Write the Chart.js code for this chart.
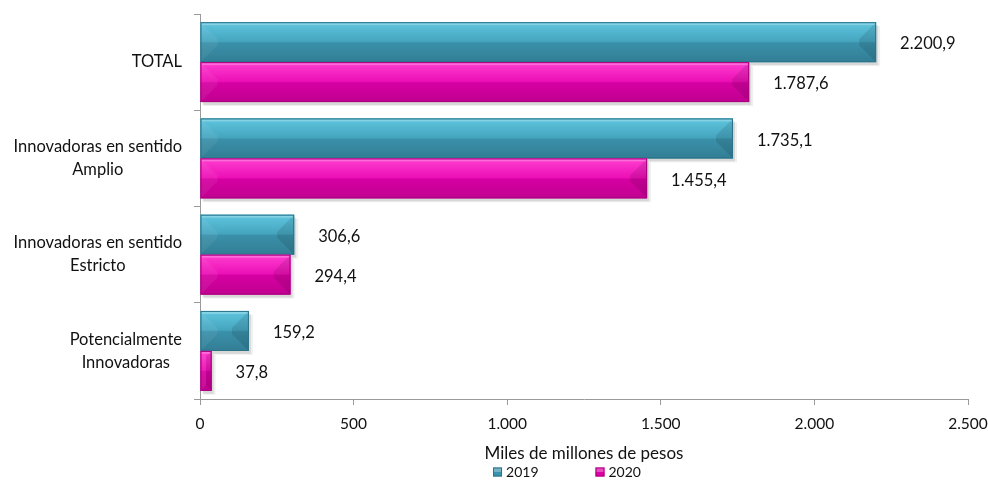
<!DOCTYPE html>
<html>
<head>
<meta charset="utf-8">
<script src="https://cdn.jsdelivr.net/npm/chart.js@4.4.1/dist/chart.umd.min.js"></script>
<style>
  body { margin: 0; background: #fff; }
</style>
</head>
<body>
<canvas id="myChart" width="988" height="480"></canvas>
<script>
// data
const categories = [
    ['TOTAL'],
    ['Innovadoras en sentido', 'Amplio'],
    ['Innovadoras en sentido', 'Estricto'],
    ['Potencialmente', 'Innovadoras']
];
const seriesNames = ['2019', '2020'];
const values2019 = [2200.9, 1735.1, 306.6, 159.2];
const values2020 = [1787.6, 1455.4, 294.4, 37.8];
const xTicks = [0, 500, 1000, 1500, 2000, 2500];
const axisTitle = 'Miles de millones de pesos';

const fontFamily = 'Lato, "Open Sans", sans-serif';

// shading stops per series (top, upper mid, lower mid, bottom)
const shade2019 = ['#60C6DF', '#45A5BF', '#3A90A9', '#327E95'];
const shade2020 = ['#FF3FD0', '#EC10B6', '#D600A2', '#C00090'];

// spanish style number: 1.787,6
function fmt(v, dec) {
    const parts = v.toFixed(dec).split('.');
    parts[0] = parts[0].replace(/\B(?=(\d{3})+(?!\d))/g, '.');
    return parts.join(',');
}

// soft shadow behind the bars
const barShadow = {
    id: 'barShadow',
    beforeDatasetsDraw(chart) {
        const ctx = chart.ctx;
        ctx.save();
        chart.data.datasets.forEach((ds, di) => {
            chart.getDatasetMeta(di).data.forEach(bar => {
                const T = bar.y - bar.height / 2;
                ctx.fillStyle = 'rgba(0,0,0,0.10)';
                ctx.fillRect(bar.base + 2, T + 3, bar.x - bar.base, bar.height);
                ctx.fillStyle = 'rgba(0,0,0,0.06)';
                ctx.fillRect(bar.base + 3, T + 4, bar.x - bar.base + 1, bar.height);
            });
        });
        ctx.restore();
    }
};

// bevel look on each bar
const bevelPlugin = {
    id: 'bevel',
    afterDatasetsDraw(chart) {
        const ctx = chart.ctx;
        chart.data.datasets.forEach((ds, di) => {
            const meta = chart.getDatasetMeta(di);
            meta.data.forEach(bar => {
                const L = bar.base, R = bar.x;
                const T = bar.y - bar.height / 2, B = bar.y + bar.height / 2;
                const b = Math.min(bar.height / 2, (R - L) / 2, 17);
                const face = (pts, col) => {
                    ctx.beginPath();
                    ctx.moveTo(pts[0][0], pts[0][1]);
                    for (let i = 1; i < pts.length; i++) ctx.lineTo(pts[i][0], pts[i][1]);
                    ctx.closePath();
                    ctx.fillStyle = col;
                    ctx.fill();
                };
                ctx.save();
                // vertical shading: light top half, darker bottom half
                const g = ctx.createLinearGradient(0, T, 0, B);
                g.addColorStop(0, ds.shade[0]);
                g.addColorStop(0.48, ds.shade[1]);
                g.addColorStop(0.52, ds.shade[2]);
                g.addColorStop(1, ds.shade[3]);
                ctx.fillStyle = g;
                ctx.fillRect(L, T, R - L, B - T);
                // left face
                face([[L, T], [L + b, T + b], [L + b, B - b], [L, B]], 'rgba(255,255,255,0.06)');
                // right face
                face([[R, T], [R - b, T + b], [R - b, B - b], [R, B]], 'rgba(0,0,0,0.10)');
                // highlight line on top
                ctx.fillStyle = 'rgba(255,255,255,0.25)';
                ctx.fillRect(L + 1, T + 1, Math.max(0, R - L - 2), 2);
                // outline
                ctx.strokeStyle = ds.edgeColor;
                ctx.lineWidth = 1;
                ctx.strokeRect(L + 0.5, T + 0.5, R - L - 1, bar.height - 1);
                ctx.restore();
            });
        });
    }
};

// value labels to the right of bars
const valueLabels = {
    id: 'valueLabels',
    afterDatasetsDraw(chart) {
        const ctx = chart.ctx;
        ctx.save();
        ctx.font = '16.5px ' + fontFamily;
        ctx.fillStyle = '#111';
        ctx.textAlign = 'left';
        ctx.textBaseline = 'middle';
        chart.data.datasets.forEach((ds, di) => {
            chart.getDatasetMeta(di).data.forEach((bar, i) => {
                ctx.fillText(fmt(ds.data[i], 1), bar.x + 24, bar.y + 2);
            });
        });
        ctx.restore();
    }
};

// category labels: block right aligned, lines centered inside block
const categoryLabels = {
    id: 'categoryLabels',
    afterDraw(chart) {
        const ctx = chart.ctx;
        const yScale = chart.scales.y;
        const right = yScale.right - 18;
        const lineH = 23;
        ctx.save();
        ctx.font = '16.5px ' + fontFamily;
        ctx.fillStyle = '#111';
        ctx.textAlign = 'center';
        ctx.textBaseline = 'middle';
        chart.data.labels.forEach((lines, i) => {
            const y = yScale.getPixelForValue(i);
            const w = Math.max(...lines.map(l => ctx.measureText(l).width));
            const cx = right - w / 2;
            lines.forEach((l, k) => {
                ctx.fillText(l, cx, y + (k - (lines.length - 1) / 2) * lineH);
            });
        });
        ctx.restore();
    }
};

// legend under the axis title
const bottomLegend = {
    id: 'bottomLegend',
    afterDraw(chart) {
        const ctx = chart.ctx;
        const area = chart.chartArea;
        ctx.save();
        ctx.font = '14px ' + fontFamily;
        ctx.textBaseline = 'middle';
        ctx.textAlign = 'left';
        const box = 9, gapText = 4, gapItem = 57;
        const items = chart.data.datasets.map(ds => ({
            text: ds.label, color: ds.backgroundColor, edge: ds.edgeColor,
            w: box + gapText + ctx.measureText(ds.label).width
        }));
        const total = items.reduce((s, it) => s + it.w, 0) + gapItem * (items.length - 1);
        let x = (area.left + area.right) / 2 - 17 - total / 2;
        const y = chart.height - 8;
        items.forEach(it => {
            ctx.fillStyle = it.color;
            ctx.fillRect(x, y - box / 2, box, box);
            ctx.fillStyle = 'rgba(255,255,255,0.3)';
            ctx.fillRect(x, y - box / 2, box, box / 2);
            ctx.strokeStyle = it.edge;
            ctx.strokeRect(x + 0.5, y - box / 2 + 0.5, box - 1, box - 1);
            ctx.fillStyle = '#111';
            ctx.fillText(it.text, x + box + gapText, y);
            x += it.w + gapItem;
        });
        ctx.restore();
    }
};

const ctx = document.getElementById('myChart');
const myChart = new Chart(ctx, {
    type: 'bar',
    data: {
        labels: categories,
        datasets: [
            {
                label: seriesNames[0],
                data: values2019,
                backgroundColor: '#3A93AD',
                edgeColor: '#2C7389',
                shade: shade2019,
                borderWidth: 0
            },
            {
                label: seriesNames[1],
                data: values2020,
                backgroundColor: '#DC02A6',
                edgeColor: '#A8007E',
                shade: shade2020,
                borderWidth: 0
            }
        ]
    },
    options: {
        indexAxis: 'y',
        responsive: false,
        animation: false,
        barPercentage: 1,
        categoryPercentage: 0.83,
        layout: {
            padding: { top: 14, right: 20, bottom: 14, left: 0 }
        },
        plugins: {
            legend: { display: false },
            tooltip: { enabled: false }
        },
        scales: {
            x: {
                min: 0,
                max: 2500,
                afterBuildTicks(scale) {
                    scale.ticks = xTicks.map(v => ({ value: v }));
                },
                afterFit(scale) {
                    scale.paddingLeft = 0;
                    scale.paddingRight = 0;
                },
                ticks: {
                    color: '#111',
                    font: { family: fontFamily, size: 15.5 },
                    padding: 10,
                    maxRotation: 0,
                    callback: v => fmt(v, 0)
                },
                grid: {
                    display: true,
                    drawOnChartArea: false,
                    drawTicks: true,
                    tickLength: 6,
                    color: '#9a9a9a'
                },
                border: { display: true, color: '#9a9a9a' },
                title: {
                    display: true,
                    text: axisTitle,
                    color: '#111',
                    font: { family: fontFamily, size: 17 },
                    padding: { top: 0, bottom: 2 }
                }
            },
            y: {
                afterFit(scale) {
                    scale.width = 200;
                },
                ticks: { display: false },
                grid: {
                    display: true,
                    offset: true,
                    drawOnChartArea: false,
                    drawTicks: true,
                    tickLength: 6,
                    color: '#9a9a9a'
                },
                border: { display: true, color: '#9a9a9a' }
            }
        }
    },
    plugins: [barShadow, bevelPlugin, valueLabels, categoryLabels, bottomLegend]
});
</script>
</body>
</html>
